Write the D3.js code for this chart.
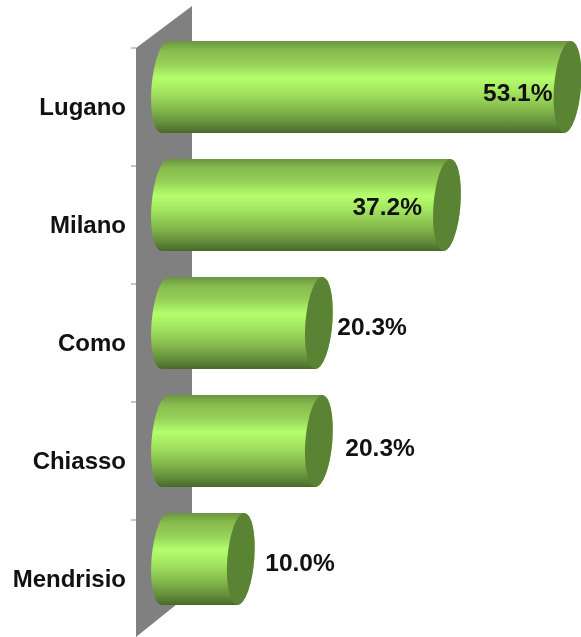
<!DOCTYPE html>
<html lang="en">
<head>
<meta charset="UTF-8">
<title>Chart</title>
<script src="https://cdn.jsdelivr.net/npm/d3@7"></script>
<style>
  html, body { margin: 0; padding: 0; background: #fff; }
  svg { display: block; filter: blur(0.4px); }
  text { font-family: "Liberation Sans", Arial, sans-serif; font-weight: bold; fill: #111; }
</style>
</head>
<body>
<div id="chart"></div>
<script>
var categories = ["Lugano", "Milano", "Como", "Chiasso", "Mendrisio"];
var values = [53.1, 37.2, 20.3, 20.3, 10.0];
var valueLabels = ["53.1%", "37.2%", "20.3%", "20.3%", "10.0%"];

var width = 581, height = 637;

// 3d look, all in pixels
var barH = 92, rx = 13.5, ry = barH / 2, skew = -4.3;
var barShift = -7;   // bars sit a bit above their band because of the depth

// hand placed data labels, offset from the end of the cylinder
var labelDx = [-98, -108, 5, 13, 11];
var labelDy = [5, 1, 3, 6, 3];

var x = d3.scaleLinear().domain([0, 53.1]).range([165, 567.5]);
var y = d3.scaleBand().domain(categories).range([48, 638]);

var svg = d3.select("#chart").append("svg")
  .attr("width", width)
  .attr("height", height);

var defs = svg.append("defs");
var grad = defs.append("linearGradient")
  .attr("id", "barGrad")
  .attr("x1", 0).attr("y1", 0).attr("x2", 0).attr("y2", 1);
[[0, "#6a9440"], [0.1, "#86bb4d"], [0.25, "#96d158"], [0.4, "#b4fe6d"],
 [0.55, "#a3e55f"], [0.75, "#83b74c"], [0.9, "#628c3a"], [1, "#48682a"]].forEach(function(s) {
  grad.append("stop").attr("offset", s[0]).attr("stop-color", s[1]);
});

/* ====== back wall ====== */
var wall = d3.path();
wall.moveTo(136, 48);
wall.lineTo(192, 6);
wall.lineTo(192, 592);
wall.lineTo(136, 637);
wall.closePath();
svg.append("path").attr("d", wall.toString()).attr("fill", "#808080");

/* ====== axis ticks and labels ====== */
var yAxis = d3.axisLeft(y).tickSize(0).tickPadding(10);
var axis = svg.append("g").attr("transform", "translate(136,0)").call(yAxis);
axis.select(".domain").remove();
axis.selectAll("text")
  .style("font-size", "24px")
  .attr("x", -10)
  .attr("dy", "0.32em");
axis.attr("font-family", null);

svg.selectAll(".tick-mark")
  .data(categories.concat(["end"]))
  .enter().append("line")
  .attr("class", "tick-mark")
  .attr("x1", 131).attr("x2", 136)
  .attr("y1", function(d, i) { return 48 + i * y.step(); })
  .attr("y2", function(d, i) { return 48 + i * y.step(); })
  .attr("stroke", "#8c8c8c")
  .attr("stroke-width", 1);

/* ====== cylinders ====== */
var bars = svg.selectAll(".bar")
  .data(categories)
  .enter().append("g")
  .attr("class", "bar")
  .attr("transform", function(d) {
    return "translate(" + x(0) + "," + (y(d) + barShift + ry) + ") skewX(" + skew + ")";
  });

bars.append("path")
  .attr("fill", "url(#barGrad)")
  .attr("d", function(d, i) {
    var w = x(values[i]) - x(0);
    return "M0," + (-ry) + "L" + w + "," + (-ry) +
      "A" + rx + "," + ry + " 0 0 1 " + w + "," + ry +
      "L0," + ry +
      "A" + rx + "," + ry + " 0 0 1 0," + (-ry) + "Z";
  });

bars.append("ellipse")
  .attr("cx", function(d, i) { return x(values[i]) - x(0); })
  .attr("cy", 0)
  .attr("rx", rx)
  .attr("ry", ry)
  .attr("fill", "#5a8434");

/* ====== data labels ====== */
svg.selectAll(".value")
  .data(valueLabels)
  .enter().append("text")
  .attr("class", "value")
  .attr("x", function(d, i) { return x(values[i]) + rx + labelDx[i]; })
  .attr("y", function(d, i) { return y(categories[i]) + barShift + ry + labelDy[i]; })
  .attr("dy", "0.35em")
  .style("font-size", "24.5px")
  .text(function(d) { return d; });
</script>
</body>
</html>
